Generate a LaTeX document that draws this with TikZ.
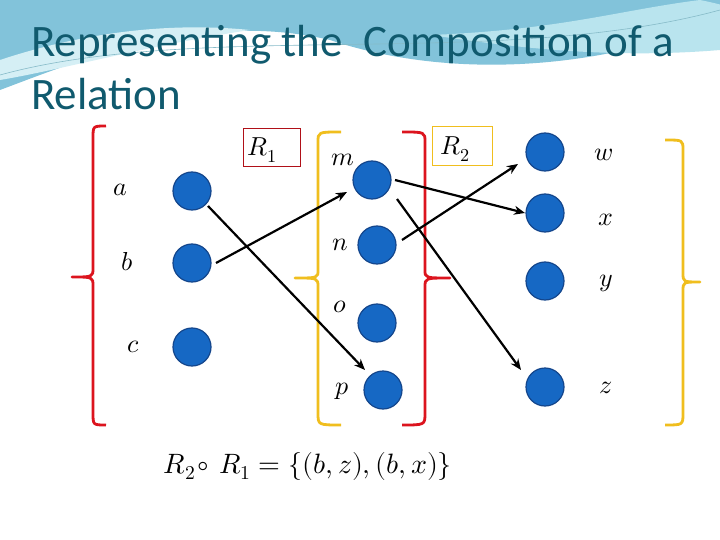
\documentclass[tikz,border=0pt]{standalone}
\usepackage{fontspec}
\setmainfont{Carlito}
\usepackage{unicode-math}
\setmathfont{Latin Modern Math}
\usetikzlibrary{arrows.meta}
\definecolor{dot}{RGB}{22,104,196}
\definecolor{dotb}{RGB}{20,70,140}
\definecolor{ttl}{RGB}{16,90,110}
\definecolor{bred}{RGB}{220,20,30}
\definecolor{byel}{RGB}{240,190,30}
\definecolor{sky}{RGB}{130,195,218}
\definecolor{skyl}{RGB}{185,228,238}
\begin{document}
\begin{tikzpicture}[x=1pt,y=-1pt,
  pt/.style={circle,fill=dot,draw=dotb,line width=1.2pt,minimum size=38pt,inner sep=0pt},
  lbl/.style={font=\fontsize{26}{30}\selectfont},
  arr/.style={-{Stealth[length=11pt,width=9pt]},line width=2.2pt},
  brc/.style={line width=2.8pt,line join=round}]
\useasboundingbox (0,0) rectangle (720,540);
\fill[white] (0,0) rectangle (720,540);
% background swoosh
\fill[sky] (0,0) -- (720,0) -- (720,20) .. controls (600,70) and (450,80) .. (330,40) .. controls (200,10) and (80,60) .. (0,90) -- cycle;
\fill[skyl] (700,0) .. controls (750,10) and (760,20) .. (720,30) -- (720,50) .. controls (600,60) and (500,45) .. (430,35) .. controls (560,30) and (620,10) .. (700,0);
\fill[skyl!60] (0,60) .. controls (60,40) and (150,20) .. (250,30) .. controls (150,45) and (60,70) .. (0,80) -- cycle;
\draw[skyl!70!ttl,line width=0.6pt] (0,75) .. controls (200,20) and (500,70) .. (720,10);
\node[ttl,anchor=west,font=\fontsize{45}{53}\selectfont,align=left,inner sep=0pt] (title) at (31,68) {Representing the\ \ Composition of a\\Relation};
% braces
\draw[brc,bred] (106,126) .. controls (93,126) .. (93,138) -- (93,268) .. controls (93,277) .. (72,277) .. controls (93,277) .. (93,286) -- (93,413) .. controls (93,425) .. (106,425);
\draw[brc,byel] (341,132) .. controls (318,132) .. (318,142) -- (318,270) .. controls (318,278) .. (295,278) .. controls (318,278) .. (318,287) -- (318,413) .. controls (318,425) .. (341,425);
\draw[brc,bred] (402,132) .. controls (425,132) .. (425,142) -- (425,270) .. controls (425,278) .. (450,278) .. controls (425,278) .. (425,287) -- (425,413) .. controls (425,425) .. (402,425);
\draw[brc,byel] (665,140) .. controls (683,140) .. (683,150) -- (683,273) .. controls (683,282) .. (700,282) .. controls (683,282) .. (683,291) -- (683,413) .. controls (683,425) .. (665,425);
% dots
\node[pt] (a) at (192,191) {};
\node[pt] (b) at (192,263) {};
\node[pt] (c) at (192,347) {};
\node[pt] (m) at (372,180) {};
\node[pt] (n) at (377,245) {};
\node[pt] (o) at (377,323) {};
\node[pt] (p) at (383,390) {};
\node[pt] (w) at (545,152) {};
\node[pt] (x) at (545,213) {};
\node[pt] (y) at (545,281) {};
\node[pt] (z) at (545,387) {};
% labels
\node[lbl] (la) at (120,190) {$a$};
\node[lbl] (lb) at (127,262) {$b$};
\node[lbl] (lc) at (133,347) {$c$};
\node[lbl] (lm) at (343,160) {$m$};
\node[lbl] (ln) at (340,245) {$n$};
\node[lbl] (lo) at (340,307) {$o$};
\node[lbl] (lp) at (342,391) {$p$};
\node[lbl] (lw) at (604,155) {$w$};
\node[lbl] (lx) at (606,220) {$x$};
\node[lbl] (ly) at (606,283) {$y$};
\node[lbl] (lz) at (606,388) {$z$};
\node[draw=bred!80!black,line width=0.6pt,minimum width=57pt,minimum height=38pt,anchor=north west] (r1) at (243,128) {};
\node[lbl] at (262,150) {$R_1$};
\node[draw=byel,line width=0.6pt,minimum width=60pt,minimum height=39pt,anchor=north west] (r2) at (432,126) {};
\node[lbl] at (455,149) {$R_2$};
% arrows
\draw[arr] ([shift={(16,15)}]a.center) -- ([shift={(-18,-20)}]p.center);
\draw[arr] ([shift={(24,0)}]b.center) -- ([shift={(-25,12)}]m.center);
\draw[arr] ([shift={(23,0)}]m.center) -- ([shift={(-20,0)}]x.center);
\draw[arr] ([shift={(25,19)}]m.center) -- ([shift={(-24,-17)}]z.center);
\draw[arr] ([shift={(25,-5)}]n.center) -- ([shift={(-27,12)}]w.center);
\node[font=\fontsize{28}{32}\selectfont] (f) at (308,466) {$R_2\!\circ\, R_1=\{(b,z),(b,x)\}$};
\end{tikzpicture}
\end{document}
